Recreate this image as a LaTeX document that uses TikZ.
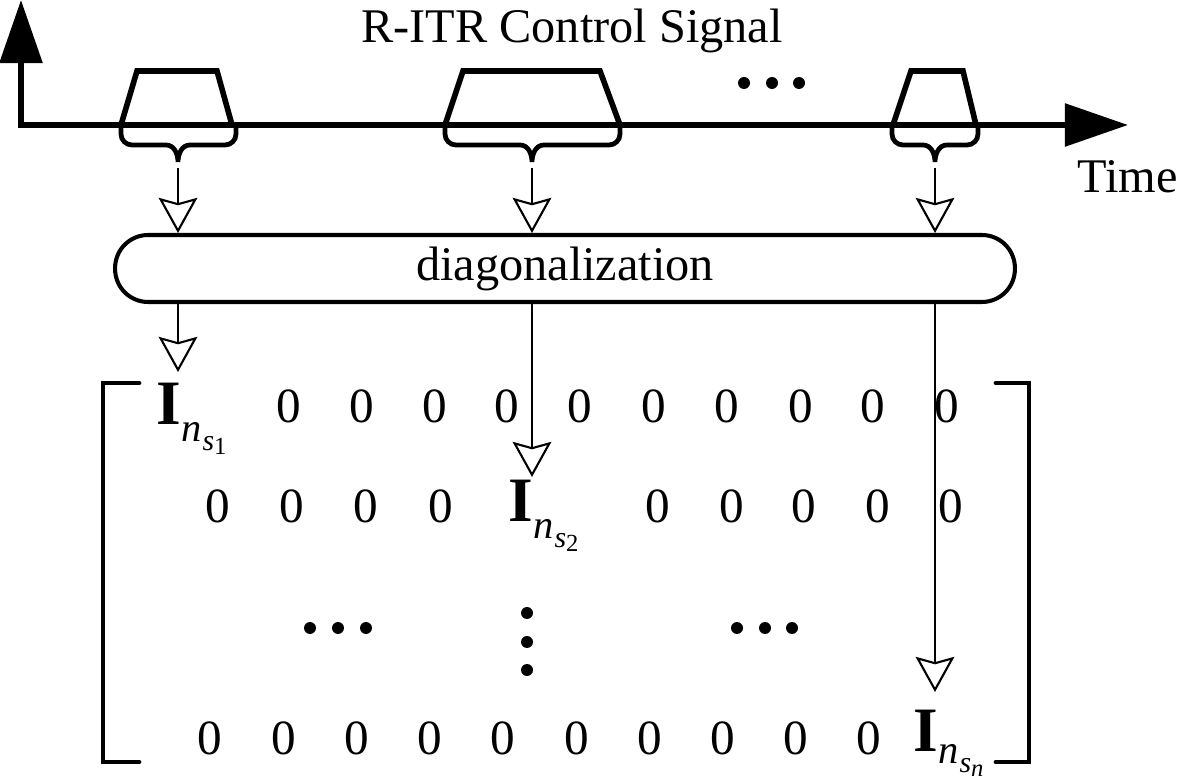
\documentclass[tikz,border=0pt]{standalone}
\usepackage{fontspec}
\setmainfont{Liberation Serif}
\usetikzlibrary{arrows.meta}
\newcommand\Imat[2][-9.5pt]{{\fontsize{36}{36}\selectfont\bfseries I}\kern0.5pt\raisebox{#1}{\fontsize{23}{23}\selectfont\itshape n\kern0.3pt\raisebox{-5pt}{\fontsize{17}{17}\selectfont s\raisebox{-2.5pt}{\fontsize{14}{14}\selectfont\upshape #2}}}}
\tikzset{
  axis/.style={line width=3.2pt, line join=miter, {Triangle[length=36pt,width=24pt]}-{Triangle[length=36pt,width=24pt]}},
  pulse/.style={line width=3.2pt, line join=miter},
  bracestyle/.style={line width=2.7pt},
  flow/.style={line width=1.2pt, -{Stealth[open, length=20pt, width=22pt, inset=3pt, line width=1.2pt]}},
  zero/.style={anchor=base, inner sep=0pt, font=\fontsize{28}{30}\selectfont},
  lbl/.style={inner sep=0pt, font=\fontsize{27.5}{30}\selectfont},
  bracket/.style={line width=2.8pt, line cap=round},
  bigdot/.style={fill=black},
}
\begin{document}
\begin{tikzpicture}[x=0.02cm,y=-0.02cm]
\useasboundingbox (0,0) rectangle (1181,780);
% axes
\coordinate (O) at (21,125);
\coordinate (Ytip) at (21,0);
\coordinate (Xtip) at (1128,125);
\draw[axis] (Ytip) -- (O) -- (Xtip);
\node[lbl, anchor=base] (title) at (572,43) {R-ITR Control Signal};
\node[lbl, anchor=base west] (time) at (1077,193) {Time};
% pulses
\draw[pulse] (121,125) -- (137,71) -- (217,71) -- (232,125);
\draw[pulse] (445,125) -- (463,71) -- (600,71) -- (620,125);
\draw[pulse] (893,125) -- (911,71) -- (963,71) -- (976,125);
% top dots
\foreach \x in {744,772,799} \fill[bigdot] (\x,83) circle[radius=0.12cm];
% braces
\foreach \L/\C/\R in {121/178/236, 445/532/620, 892/935/978}{
  \draw[bracestyle] (\L,125) -- (\L,134) to[out=-90,in=180] (\L+11,145) -- (\C-12,145)
    to[out=0,in=90] (\C,162) to[out=90,in=180] (\C+12,145) -- (\R-11,145)
    to[out=0,in=-90] (\R,134) -- (\R,125);
}
% diagonalization box
\node[draw, line width=2.3pt, rounded corners=0.66cm, minimum width=18cm, minimum height=1.34cm, inner sep=0pt, font=\fontsize{27.5}{30}\selectfont] (diag) at (565,268.5) {diagonalization};
% arrows into box
\coordinate (b1) at (178,168);
\coordinate (b2) at (532,168);
\coordinate (b3) at (935,168);
\draw[flow] (b1) -- (b1 |- diag.north);
\draw[flow] (b2) -- (b2 |- diag.north);
\draw[flow] (b3) -- (b3 |- diag.north);
% arrows out of box
\coordinate (t1) at (178,372);
\coordinate (t2) at (532,477);
\coordinate (t3) at (935,692);
\draw[flow] (diag.south -| t1) -- (t1);
\draw[flow] (diag.south -| t2) -- (t2);
\draw[flow] (diag.south -| t3) -- (t3);
% brackets
\draw[bracket] (139,383) -- (103,383) -- (103,762) -- (139,762);
\draw[bracket] (996,383) -- (1029,383) -- (1029,762) -- (996,762);
% row 1
\node[lbl, anchor=base west] (I1) at (156,425) {\Imat{1}};
\foreach \x [count=\i] in {289,362,435,507,580,654,727,801,873,947}
  \node[zero] (ra\i) at (\x,423) {0};
% row 2
\foreach \x [count=\i] in {218,292,366,441,658,732,804,878,951}
  \node[zero] (rb\i) at (\x,523) {0};
\node[lbl, anchor=base west] (I2) at (508,522) {\Imat{2}};
% row 3 dots
\foreach \x in {310,338,366,737,765,792} \fill[bigdot] (\x,628) circle[radius=0.12cm];
\foreach \y in {613,642,670} \fill[bigdot] (527,\y) circle[radius=0.12cm];
% row 4
\foreach \x [count=\i] in {210,284,357,430,503,577,650,723,796,869}
  \node[zero] (rd\i) at (\x,754) {0};
\node[lbl, anchor=base west] (I3) at (913,751) {\Imat[-7pt]{\itshape n}};
\end{tikzpicture}
\end{document}
